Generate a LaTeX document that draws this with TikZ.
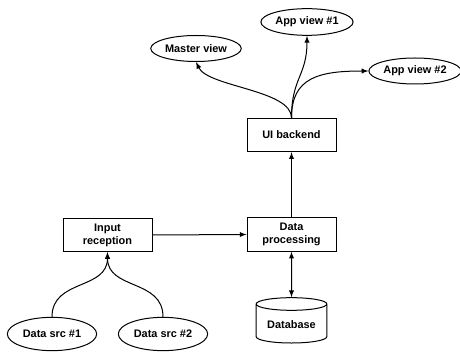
\documentclass[tikz,border=0pt]{standalone}
\usepackage{fontspec}
\setmainfont{Liberation Sans}
\usepackage{tikz}
\usetikzlibrary{shapes.geometric,arrows}

\begin{document}
\begin{tikzpicture}[x=0.75pt,y=0.75pt,yscale=-1,xscale=1,
  font=\fontsize{8.2}{9.6}\selectfont\bfseries,>=latex,line width=0.75pt,
  box/.style={draw,rectangle,minimum width=66.75pt,minimum height=25pt,align=center,inner sep=0.75pt},
  oval/.style={draw,ellipse,minimum width=67pt,minimum height=19.5pt,inner sep=0.75pt},
  dbase/.style={draw,cylinder,shape border rotate=90,aspect=0.25,minimum width=53pt,minimum height=34pt,inner sep=0.75pt}]

\useasboundingbox (0,0) rectangle (460,352);

% views
\node [oval] (master) at (196,48.5) {Master view};
\node [oval,minimum height=20pt] (app1) at (307,22) {App view \#1};
\node [oval,minimum width=64pt] (app2) at (415,71) {App view \#2};

% backend and processing
\node [box] (ui) at (291.5,135) {UI backend};
\node [box] (proc) at (291.5,234.5) {Data\\processing};
\node [box] (input) at (107.5,235) {Input\\reception};

% sources and storage
\node [oval,minimum height=25pt] (src1) at (52,334) {Data src \#1};
\node [oval,minimum height=25pt] (src2) at (163,334) {Data src \#2};
\node [dbase] (db) at (291.5,324.5) {Database};

\draw [->] (ui.north) .. controls +(0,-28) and +(12,25) .. (master.south);
\draw [->] (ui.north) .. controls +(0,-40) and +(0,40) .. (app1.south);
\draw [->] (ui.north) .. controls +(0,-40) and +(-50,0) .. (app2.west);

\draw [->] (proc.north) -- (ui.south);
\draw [->] (input.east) -- (proc.west);
\draw [<->] (proc.south) -- (db.north);

\draw [->] (src1.north) .. controls +(0,-38) and +(0,38) .. (input.south);
\draw [->] (src2.north) .. controls +(0,-38) and +(0,38) .. (input.south);

\end{tikzpicture}
\end{document}
